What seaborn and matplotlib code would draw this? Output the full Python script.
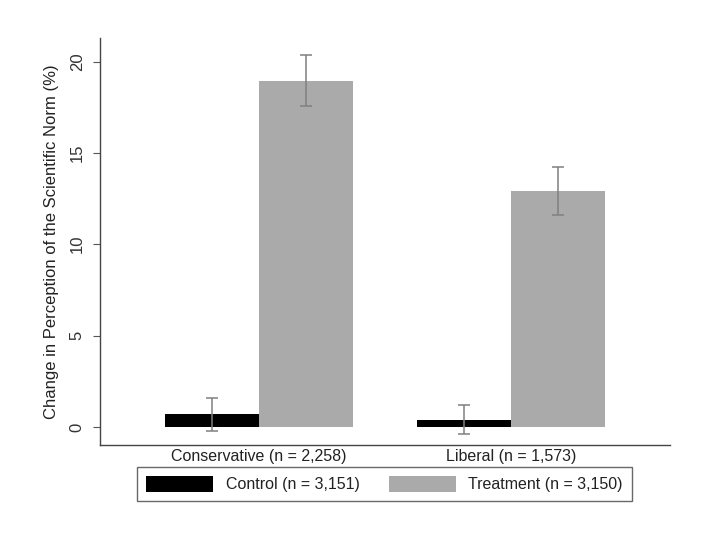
import pandas as pd
import seaborn as sns
import matplotlib.pyplot as plt
from matplotlib.patches import Patch

# values
groups = ["Conservative (n = 2,258)", "Liberal (n = 1,573)"]
conditions = ["Control (n = 3,151)", "Treatment (n = 3,150)"]
control_vals = [0.7, 0.4]
treatment_vals = [18.95, 12.9]
control_err = [0.9, 0.8]
treatment_err = [1.4, 1.3]
colors = ["#000000", "#aaaaaa"]

df = pd.DataFrame({
    "group": groups * 2,
    "condition": [conditions[0]] * 2 + [conditions[1]] * 2,
    "value": control_vals + treatment_vals,
    "err": control_err + treatment_err,
})

sns.set_style("white")
plt.rcParams["font.family"] = ["Liberation Sans", "DejaVu Sans"]

fig = plt.figure(figsize=(7.2, 5.4), dpi=100)
ax = fig.add_axes([0.139, 0.176, 0.792, 0.754])

sns.barplot(data=df, x="group", y="value", hue="condition", order=groups,
            hue_order=conditions, palette=colors, errorbar=None,
            width=0.746, saturation=1, linewidth=0, legend=False, ax=ax)

# error bars at the bar centres
for i, cond in enumerate(conditions):
    sub = df[df["condition"] == cond].set_index("group").loc[groups]
    bars = ax.containers[i]
    xs = [b.get_x() + b.get_width() / 2 for b in bars]
    ax.errorbar(xs, sub["value"], yerr=sub["err"], fmt="none",
                ecolor="#808080", elinewidth=1.1, capsize=4, capthick=1.1)

ax.set_xlim(-0.63, 1.63)
ax.set_ylim(-0.99, 21.3)
ax.set_yticks([0, 5, 10, 15, 20])
ax.set_yticklabels(["0", "5", "10", "15", "20"], rotation=90, va="center")
ax.tick_params(axis="y", left=True, length=5, width=0.8, color="#555555",
               labelcolor="#333333", labelsize=12, pad=6)
ax.tick_params(axis="x", bottom=False, length=0, labelsize=11.5,
               labelcolor="#222222", pad=3)
ax.set_xlabel("")
ax.set_ylabel("Change in Perception of the Scientific Norm (%)", fontsize=12,
              color="#222222", labelpad=8)
for s in ["top", "right"]:
    ax.spines[s].set_visible(False)
for s in ["left", "bottom"]:
    ax.spines[s].set_color("#444444")
    ax.spines[s].set_linewidth(1)

handles = [Patch(facecolor=c, edgecolor="none") for c in colors]
leg = fig.legend(handles, conditions, loc="center", ncol=2,
                 bbox_to_anchor=(0.534, 0.104), frameon=True, fancybox=False,
                 fontsize=11.5, handlelength=4.2, handleheight=1.2,
                 handletextpad=0.8, columnspacing=1.8, borderpad=0.55,
                 labelcolor="#222222")
leg.get_frame().set_edgecolor("#444444")
leg.get_frame().set_linewidth(1)

fig.savefig("out.png", dpi=100, facecolor="white")
